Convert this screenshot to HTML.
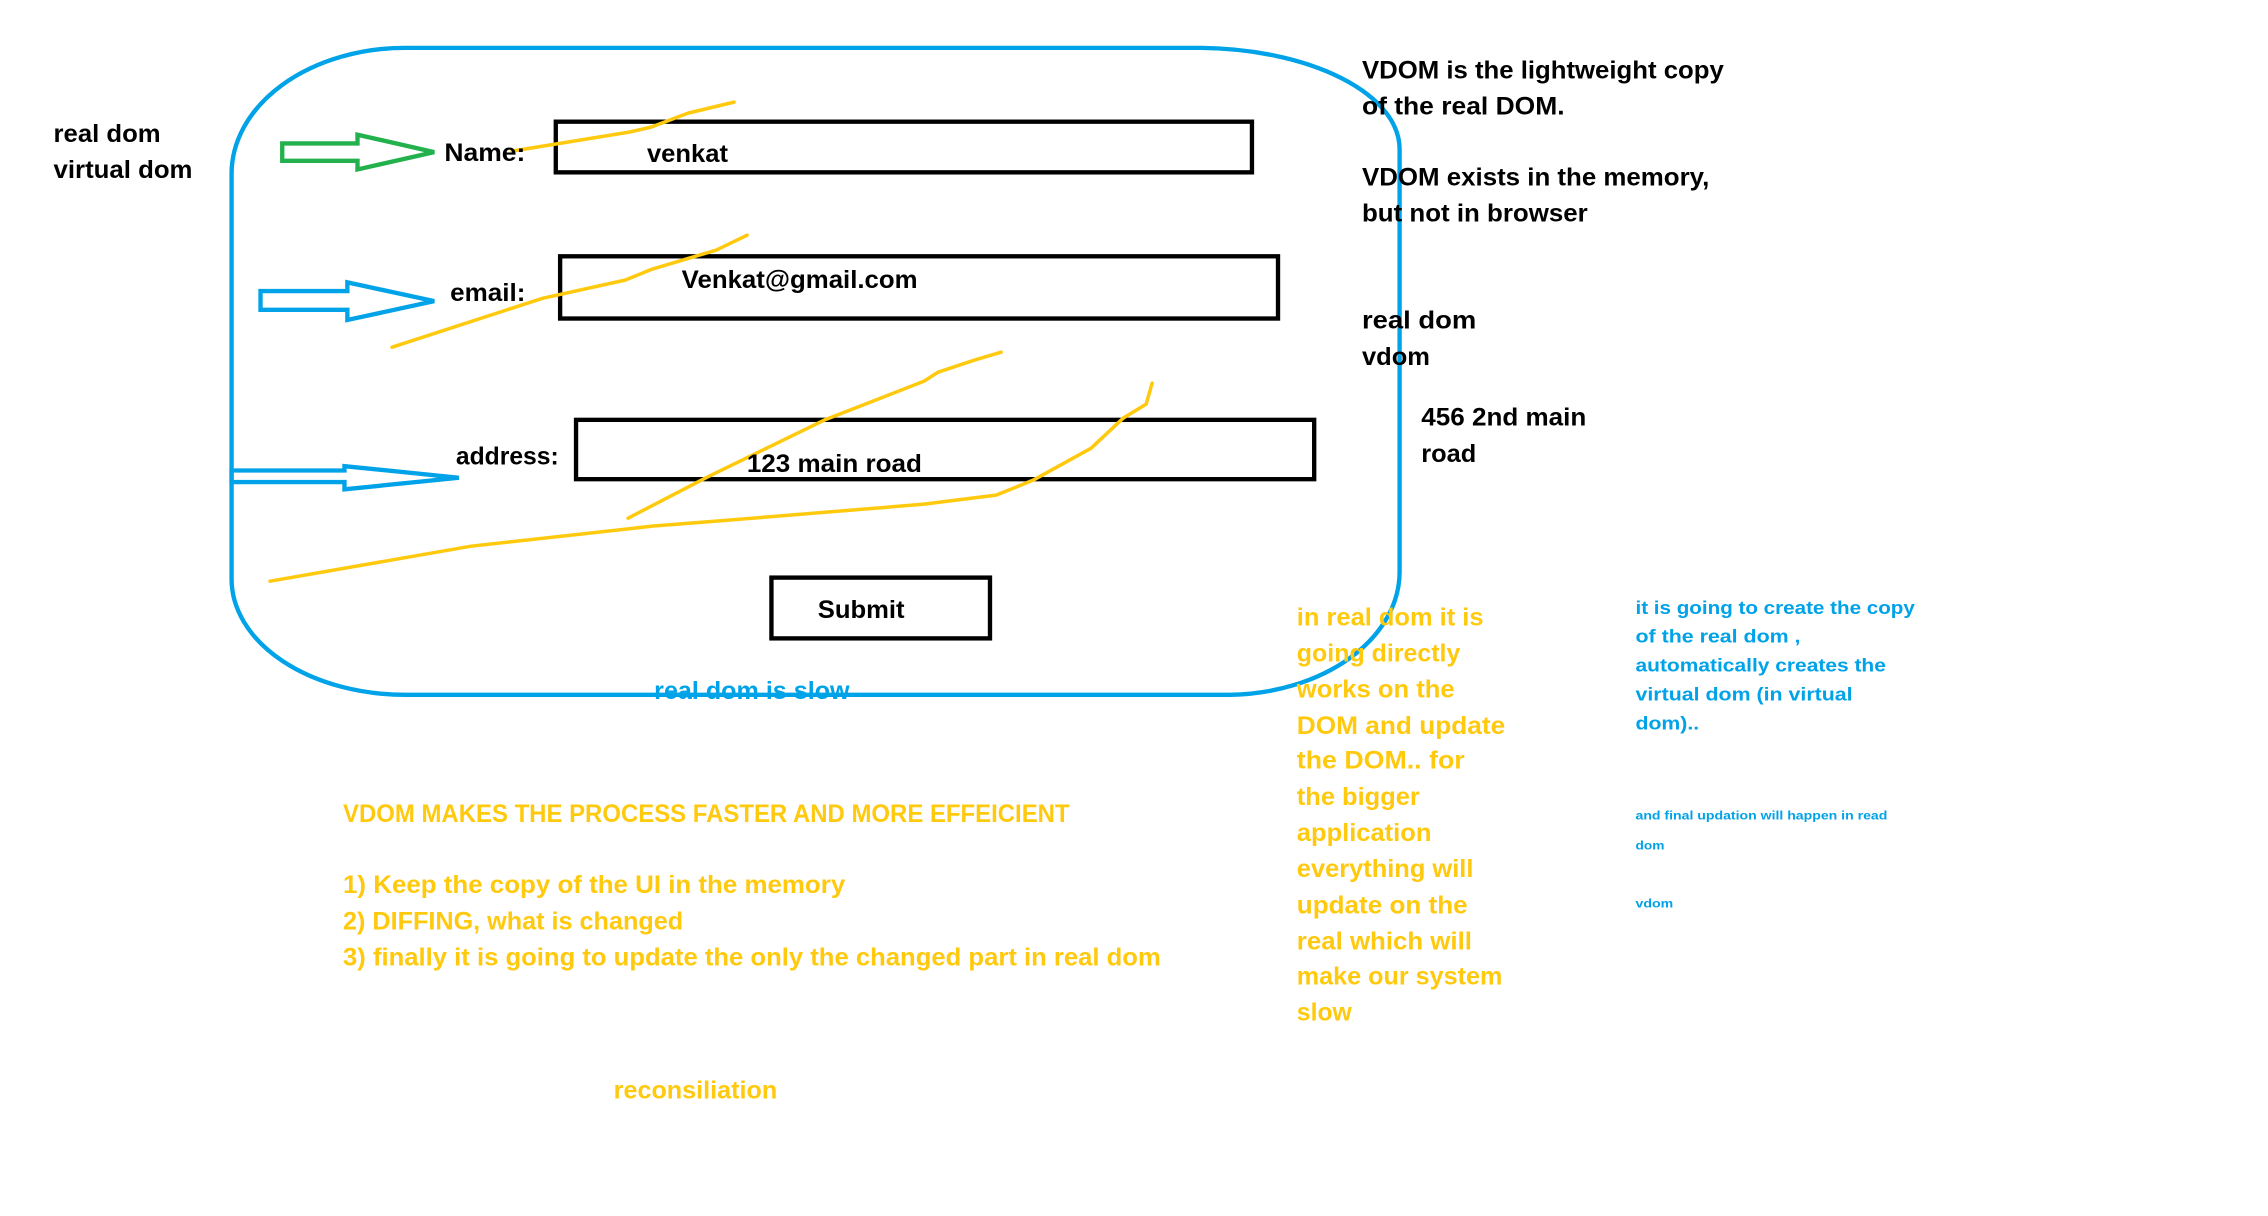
<!DOCTYPE html>
<html><head><meta charset="utf-8"><style>html,body{margin:0;padding:0;background:#fff;}svg{display:block}</style></head>
<body>
<svg width="2268" height="1216" viewBox="0 0 1567 840" xmlns="http://www.w3.org/2000/svg" font-family="Liberation Sans, sans-serif" font-weight="bold">
<rect width="1567" height="840" fill="#fff"/>
<!-- main rounded container -->
<path d="M280,33 L830,33 A140,70 0 0 1 967,103 L967,395 A120,85 0 0 1 850,480 L280,480 A120,80 0 0 1 160,400 L160,120 A120,87 0 0 1 280,33 Z" fill="none" stroke="#00a2e8" stroke-width="3"/>
<!-- input boxes -->
<rect x="384" y="84" width="481" height="35" fill="none" stroke="#000" stroke-width="3"/>
<rect x="387" y="177" width="496" height="43" fill="none" stroke="#000" stroke-width="3"/>
<rect x="398" y="290" width="510" height="41" fill="none" stroke="#000" stroke-width="3"/>
<rect x="533" y="399" width="151" height="42" fill="none" stroke="#000" stroke-width="3"/>
<!-- arrows -->
<polygon points="195,99 247,99 247,93 300,105 247,117 247,111 195,111" fill="none" stroke="#22b14c" stroke-width="3"/>
<polygon points="180,201 240,201 240,195 300,208 240,221 240,214 180,214" fill="none" stroke="#00a2e8" stroke-width="3"/>
<polygon points="160,325 238,325 238,322 317,330 238,338 238,333 160,333" fill="none" stroke="#00a2e8" stroke-width="3"/>
<!-- yellow scribbles (actual coords) -->
<g transform="scale(0.691)" fill="none" stroke="#ffc90e" stroke-width="3.5" stroke-linecap="round" stroke-linejoin="round">
<polyline points="512,151 629,132 651,127 688,113 734,102"/>
<polyline points="392,347 543,298 625,280 652,269 716,250 747,235"/>
<polyline points="628,518 707,477 824,420 924,381 938,372 974,360 1001,352"/>
<polyline points="270,581 471,546 652,526 716,521 924,504 996,495 1033,480 1091,448 1123,418 1146,404 1152,383"/>
</g>
<!-- black labels -->
<g fill="#000" font-size="17" lengthAdjust="spacingAndGlyphs">
<text x="37" y="98" textLength="74" lengthAdjust="spacingAndGlyphs">real dom</text>
<text x="37" y="123" textLength="96" lengthAdjust="spacingAndGlyphs">virtual dom</text>
<text x="307" y="111" textLength="56" lengthAdjust="spacingAndGlyphs">Name:</text>
<text x="447" y="112" textLength="56" lengthAdjust="spacingAndGlyphs">venkat</text>
<text x="311" y="208" textLength="52" lengthAdjust="spacingAndGlyphs">email:</text>
<text x="471" y="199" textLength="163" lengthAdjust="spacingAndGlyphs">Venkat@gmail.com</text>
<text x="315" y="321" textLength="71" lengthAdjust="spacingAndGlyphs">address:</text>
<text x="516" y="326" textLength="121" lengthAdjust="spacingAndGlyphs">123 main road</text>
<text x="565" y="427" textLength="60" lengthAdjust="spacingAndGlyphs">Submit</text>
<text x="941" y="54" textLength="250" lengthAdjust="spacingAndGlyphs">VDOM is the lightweight copy</text>
<text x="941" y="79" textLength="140" lengthAdjust="spacingAndGlyphs">of the real DOM.</text>
<text x="941" y="128" textLength="240" lengthAdjust="spacingAndGlyphs">VDOM exists in the memory,</text>
<text x="941" y="153" textLength="156" lengthAdjust="spacingAndGlyphs">but not in browser</text>
<text x="941" y="227" textLength="79" lengthAdjust="spacingAndGlyphs">real  dom</text>
<text x="941" y="252" textLength="47" lengthAdjust="spacingAndGlyphs">vdom</text>
<text x="982" y="294" textLength="114" lengthAdjust="spacingAndGlyphs">456 2nd main</text>
<text x="982" y="319" textLength="38" lengthAdjust="spacingAndGlyphs">road</text>
</g>
<!-- blue labels -->
<g fill="#00a2e8">
<text x="452" y="483" font-size="17" textLength="135" lengthAdjust="spacingAndGlyphs">real dom is slow</text>
<g font-size="13">
<text x="1130" y="424" textLength="193" lengthAdjust="spacingAndGlyphs">it is going to create the copy</text>
<text x="1130" y="444" textLength="114" lengthAdjust="spacingAndGlyphs">of the real dom ,</text>
<text x="1130" y="464" textLength="173" lengthAdjust="spacingAndGlyphs">automatically creates the</text>
<text x="1130" y="484" textLength="150" lengthAdjust="spacingAndGlyphs">virtual dom (in virtual</text>
<text x="1130" y="504" textLength="44" lengthAdjust="spacingAndGlyphs">dom)..</text>
</g>
<g font-size="8.5">
<text x="1130" y="566" textLength="174" lengthAdjust="spacingAndGlyphs">and final updation will happen in read</text>
<text x="1130" y="587" textLength="20" lengthAdjust="spacingAndGlyphs">dom</text>
<text x="1130" y="627" textLength="26" lengthAdjust="spacingAndGlyphs">vdom</text>
</g>
</g>
<!-- orange labels -->
<g fill="#ffc90e" font-size="17">
<text x="237" y="568" textLength="502" lengthAdjust="spacingAndGlyphs">VDOM MAKES THE PROCESS FASTER AND MORE EFFEICIENT</text>
<text x="237" y="617" textLength="347" lengthAdjust="spacingAndGlyphs">1) Keep the copy of the UI in the memory</text>
<text x="237" y="642" textLength="235" lengthAdjust="spacingAndGlyphs">2) DIFFING, what is changed</text>
<text x="237" y="667" textLength="565" lengthAdjust="spacingAndGlyphs">3) finally it is going to update the only the changed part in real dom</text>
<text x="424" y="759" textLength="113" lengthAdjust="spacingAndGlyphs">reconsiliation</text>
<text x="896" y="432" textLength="129" lengthAdjust="spacingAndGlyphs">in real dom it is</text>
<text x="896" y="457" textLength="113" lengthAdjust="spacingAndGlyphs">going directly</text>
<text x="896" y="482" textLength="109" lengthAdjust="spacingAndGlyphs">works on the</text>
<text x="896" y="507" textLength="144" lengthAdjust="spacingAndGlyphs">DOM and update</text>
<text x="896" y="531" textLength="116" lengthAdjust="spacingAndGlyphs">the DOM.. for</text>
<text x="896" y="556" textLength="85" lengthAdjust="spacingAndGlyphs">the bigger</text>
<text x="896" y="581" textLength="93" lengthAdjust="spacingAndGlyphs">application</text>
<text x="896" y="606" textLength="122" lengthAdjust="spacingAndGlyphs">everything will</text>
<text x="896" y="631" textLength="118" lengthAdjust="spacingAndGlyphs">update on the</text>
<text x="896" y="656" textLength="121" lengthAdjust="spacingAndGlyphs">real which will</text>
<text x="896" y="680" textLength="142" lengthAdjust="spacingAndGlyphs">make our system</text>
<text x="896" y="705" textLength="38" lengthAdjust="spacingAndGlyphs">slow</text>
</g>
</svg>
</body></html>
